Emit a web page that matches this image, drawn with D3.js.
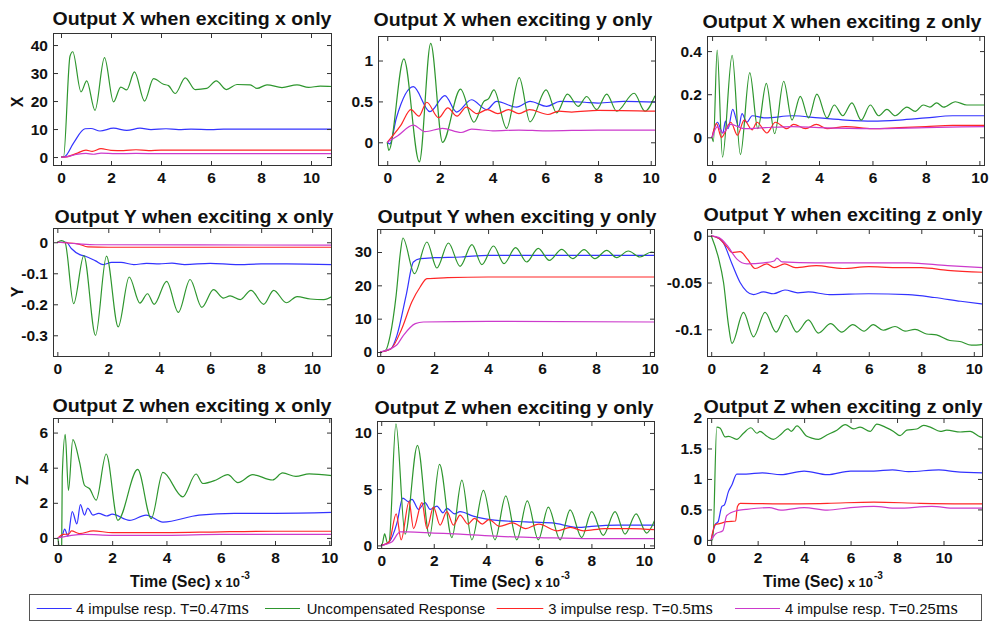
<!DOCTYPE html>
<html><head><meta charset="utf-8">
<script src="https://cdn.jsdelivr.net/npm/d3@7"></script>
<style>
body{margin:0;background:#fff;}
svg{display:block;}
</style></head>
<body>
<svg id="chart" width="992" height="622"></svg>
<script>
// ---------------- DATA ----------------
const seriesNames = ["4 impulse resp. T=0.47", "Uncompensated Response", "3 impulse resp. T=0.5", "4 impulse resp. T=0.25"];
const seriesUnits = ["ms", "", "ms", "ms"];
const seriesColors = ["#3333ff", "#2e962e", "#ff2626", "#cc3acc"];

const titles = [
  "Output X when exciting x only", "Output X when exciting y only", "Output X when exciting z only",
  "Output Y when exciting x only", "Output Y when exciting y only", "Output Y when exciting z only",
  "Output Z when exciting x only", "Output Z when exciting y only", "Output Z when exciting z only"
];
const rowLabels = ["X", "Y", "Z"];
const xTicks = [0, 2, 4, 6, 8, 10];

const xDomains = [[-0.32,10.84],[-0.35,10.2],[-0.19,10.21],[-0.17,10.78],[-0.12,10.19],[-0.16,10.35],[-0.18,10.1],[-0.16,10.42],[-0.18,11.7]];
const yDomains = [[-3.2,44.3],[-0.29,1.30],[-0.133,0.47],[-0.37,0.046],[-1.5,36.9],[-0.1296,0.0072],[-0.46,6.83],[-0.32,11.06],[-0.1,2.0]];
const yTicks = [[0,10,20,30,40],[0,0.5,1],[0,0.2,0.4],[-0.3,-0.2,-0.1,0],[0,10,20,30],[-0.1,-0.05,0],[0,2,4,6],[0,5,10],[0,0.5,1,1.5,2]];

// Output X / exciting x
const xx_blue = [[0,0],[0.15,0.2],[0.5,5],[0.96,10.1],[1.2,10.2],[1.56,9.3],[2.1,10.3],[2.63,9.5],[3.16,10.3],[3.6,9.8],[4.2,10.1],[4.7,9.8],[5.2,10],[6,9.8],[6.5,10],[8,10],[10.84,10]];
const xx_green = [[0,0],[0.1,0],[0.36,36],[0.47,37.6],[0.8,23.3],[1.03,27.2],[1.36,16.7],[1.74,35.5],[2.1,19.7],[2.39,25],[2.63,24],[2.94,30.4],[3.34,20],[3.7,28],[4.1,26],[4.3,25.5],[4.57,22.7],[4.97,28.3],[5.37,24.1],[5.83,24.5],[6.21,27.2],[6.61,24.1],[7.04,25.9],[7.57,25.8],[7.84,24.5],[8.24,25.8],[8.84,24.8],[9.44,25.8],[9.9,24.9],[10.37,25.3],[10.84,25.2]];
const xx_red = [[0,0],[0.15,0],[0.6,1.2],[1.0,2.5],[1.25,2.0],[1.6,3.0],[2.0,2.4],[2.5,2.3],[3,2.6],[3.5,2.3],[4,2.5],[5,2.5],[7,2.5],[10.84,2.5]];
const xx_mag = [[0,0],[0.15,0],[0.6,0.9],[1.0,1.3],[1.3,1.0],[1.6,1.4],[2.2,1.2],[3,1.3],[4,1.2],[6,1.2],[10.84,1.2]];

// Output X / exciting y
const xy_blue = [[0,0],[0.1,-0.02],[0.35,0.3],[0.99,0.68],[1.62,0.375],[2.19,0.57],[2.63,0.37],[3.2,0.52],[3.77,0.4],[4.15,0.5],[4.91,0.43],[5.42,0.5],[6.05,0.44],[6.56,0.5],[7.5,0.49],[8,0.48],[9,0.5],[10.2,0.49]];
const xy_green = [[0,0],[0.06,-0.1],[0.63,1.02],[1.22,-0.24],[1.65,1.21],[2.1,0],[2.78,0.65],[3.29,0.245],[3.67,0.5],[3.84,0.53],[4.05,0.64],[4.53,0.17],[5.01,0.79],[5.42,0.25],[6.03,0.64],[6.43,0.36],[6.84,0.59],[7.25,0.44],[7.57,0.56],[7.95,0.4],[8.33,0.59],[8.71,0.38],[9.37,0.6],[9.78,0.38],[10.16,0.57]];
const xy_red = [[0,0],[0.5,0.2],[0.9,0.4],[1.2,0.32],[1.5,0.49],[1.95,0.3],[2.3,0.42],[2.65,0.32],[3.0,0.43],[3.4,0.35],[3.8,0.4],[4.2,0.35],[4.6,0.4],[5.0,0.35],[5.4,0.4],[6.1,0.34],[6.5,0.38],[7,0.37],[8,0.39],[10.2,0.38]];
const xy_mag = [[0,0],[0.4,0.08],[0.99,0.21],[1.43,0.13],[2.1,0.17],[2.8,0.12],[3.2,0.16],[4,0.14],[5,0.15],[6,0.14],[8,0.15],[10.2,0.15]];

// Output X / exciting z
const xz_blue = [[0,0],[0.2,0.07],[0.4,0.02],[0.5,0.075],[0.6,0.04],[0.77,0.13],[1.0,0.05],[1.12,0.11],[1.3,0.07],[1.5,0.1],[2.0,0.09],[3.0,0.1],[4.0,0.09],[5.0,0.08],[6.0,0.075],[7.0,0.08],[8.0,0.09],[9.0,0.1],[10.21,0.1]];
const xz_green = [[0,0],[0.05,-0.02],[0.19,0.405],[0.39,-0.092],[0.75,0.38],[1.06,-0.08],[1.41,0.3],[1.71,0.04],[2.03,0.25],[2.34,0.017],[2.68,0.26],[2.99,0.08],[3.3,0.19],[3.61,0.09],[3.92,0.2],[4.3,0.09],[4.57,0.15],[4.89,0.1],[5.23,0.16],[5.58,0.08],[5.92,0.15],[6.23,0.1],[6.54,0.13],[6.85,0.1],[7.29,0.14],[7.6,0.12],[7.9,0.15],[8.15,0.14],[8.4,0.16],[8.66,0.14],[9.1,0.165],[9.53,0.15],[10.21,0.15]];
const xz_red = [[0,0],[0.16,0.065],[0.35,0],[0.7,0.07],[0.95,0.01],[1.2,0.08],[1.5,0.035],[1.68,0.07],[2.05,0.02],[2.37,0.07],[2.8,0.04],[3.05,0.06],[3.5,0.04],[3.9,0.06],[4.3,0.04],[5,0.05],[6,0.04],[7,0.045],[8,0.05],[9,0.055],[10.21,0.055]];
const xz_mag = [[0,0],[0.2,0.05],[0.4,0.02],[0.7,0.06],[1.2,0.04],[2,0.045],[3,0.05],[4,0.045],[6,0.04],[8,0.045],[10.21,0.05]];

// Output Y / exciting x
const yx_blue = [[0,0],[0.35,0],[0.55,-0.02],[0.88,-0.04],[1.1,-0.045],[1.5,-0.06],[1.8,-0.072],[2.13,-0.065],[2.5,-0.065],[3.0,-0.072],[3.5,-0.068],[4,-0.07],[4.5,-0.067],[5,-0.072],[6,-0.068],[7,-0.072],[8,-0.07],[9,-0.07],[10.78,-0.072]];
const yx_green = [[0,0],[0.16,0.005],[0.3,0],[0.64,-0.198],[1.04,-0.043],[1.5,-0.3],[1.93,-0.045],[2.39,-0.273],[2.82,-0.112],[3.24,-0.196],[3.54,-0.166],[3.8,-0.2],[4.29,-0.126],[4.75,-0.226],[5.21,-0.12],[5.67,-0.21],[6.13,-0.153],[6.52,-0.18],[6.78,-0.173],[7.18,-0.185],[7.6,-0.155],[8.1,-0.2],[8.49,-0.155],[8.99,-0.195],[9.41,-0.175],[9.93,-0.183],[10.46,-0.185],[10.78,-0.175]];
const yx_red = [[0,0],[0.8,-0.005],[1.2,-0.015],[2,-0.016],[10.78,-0.016]];
const yx_mag = [[0,0],[0.8,-0.005],[1.5,-0.008],[10.78,-0.009]];

// Output Y / exciting y
const yy_blue = [[0,0],[0.4,1],[0.62,5],[0.96,17],[1.23,27],[1.48,28],[2,28.3],[3,28.5],[4,29],[6,29],[8,29],[10.19,29]];
const yy_green = [[0,0],[0.2,0.5],[0.37,5],[0.59,17],[0.75,30],[0.84,34.2],[1.27,23.5],[1.73,33],[2.1,25.2],[2.53,32.7],[2.96,25.7],[3.4,32.2],[3.77,26.2],[4.2,31.8],[4.59,26.5],[5.02,31.3],[5.43,27],[5.86,31.1],[6.27,27.5],[6.73,30.8],[7.14,28],[7.56,30.7],[7.96,28],[8.4,30.5],[8.77,28.3],[9.2,30.3],[9.63,28.5],[10.06,30],[10.19,29.8]];
const yy_red = [[0,0],[0.4,1],[0.8,7],[1.17,15],[1.48,19.5],[1.73,22],[2.5,22.3],[4,22.5],[10.19,22.5]];
const yy_mag = [[0,0],[0.6,2],[0.86,5],[1.3,8.5],[1.6,9],[4,9.2],[10.19,9]];

// Output Y / exciting z
const yz_blue = [[0,0],[0.3,-0.003],[0.47,-0.008],[0.79,-0.03],[1.1,-0.05],[1.61,-0.063],[1.99,-0.06],[2.37,-0.062],[2.81,-0.058],[3.3,-0.061],[3.7,-0.06],[4.5,-0.063],[6,-0.062],[7.5,-0.063],[8.5,-0.066],[9.5,-0.07],[10.35,-0.073]];
const yz_green = [[0,0],[0.28,-0.024],[0.47,-0.05],[0.66,-0.096],[0.79,-0.115],[1.23,-0.082],[1.61,-0.108],[2.05,-0.082],[2.47,-0.103],[2.85,-0.085],[3.26,-0.103],[3.7,-0.09],[4.08,-0.104],[4.55,-0.094],[4.97,-0.103],[5.39,-0.095],[5.82,-0.102],[6.17,-0.095],[6.55,-0.101],[7.0,-0.097],[7.38,-0.102],[7.76,-0.1],[8.2,-0.105],[8.58,-0.106],[9.09,-0.112],[9.47,-0.113],[9.91,-0.117],[10.35,-0.116]];
const yz_red = [[0,0],[0.3,-0.003],[0.6,-0.012],[0.79,-0.018],[1.1,-0.017],[1.38,-0.025],[1.67,-0.035],[2.12,-0.03],[2.4,-0.034],[2.8,-0.03],[3.2,-0.034],[4,-0.032],[5,-0.035],[6,-0.033],[7,-0.034],[8,-0.034],[9,-0.037],[10.35,-0.039]];
const yz_mag = [[0,0],[0.3,-0.002],[0.6,-0.01],[0.98,-0.025],[1.36,-0.03],[2,-0.029],[2.4,-0.027],[2.5,-0.024],[2.7,-0.028],[4,-0.029],[6,-0.029],[7.5,-0.029],[9,-0.032],[10.35,-0.034]];

// Output Z / exciting x
const zx_blue = [[0,0],[0.15,0.1],[0.25,0.5],[0.37,0.1],[0.53,1.5],[0.7,0.8],[0.83,1.9],[0.98,1.3],[1.1,1.7],[1.29,1.3],[1.5,1.4],[1.8,1.25],[2.0,1.35],[2.64,1.0],[3.25,1.3],[3.87,0.9],[5.2,1.3],[6.5,1.4],[8,1.4],[10.1,1.45]];
const zx_green = [[0,0],[0.06,-0.5],[0.14,-0.5],[0.16,3.5],[0.27,5.9],[0.39,2.7],[0.55,5.6],[0.8,4.3],[0.98,3],[1.17,2.8],[1.41,2.15],[1.78,4.78],[2.21,1.0],[2.94,3.9],[3.44,1.1],[3.87,3.73],[4.6,2.34],[5.09,3.64],[5.34,3.1],[5.83,3.3],[6.26,3.6],[6.63,3.15],[7.18,3.6],[7.91,3.3],[8.28,3.7],[8.77,3.5],[9.26,3.65],[10.1,3.55]];
const zx_red = [[0,0],[0.2,0.2],[0.4,0.22],[0.5,0.4],[0.8,0.25],[1.3,0.4],[2,0.3],[4,0.3],[6,0.35],[8,0.38],[10.1,0.38]];
const zx_mag = [[0,0],[0.5,0.15],[1,0.2],[2,0.15],[4,0.15],[6,0.2],[10.1,0.2]];

// Output Z / exciting y
const zy_blue = [[0,0],[0.3,0.3],[0.6,2],[0.82,4.2],[1.04,3.9],[1.17,4.1],[1.42,3.2],[1.67,3.8],[1.86,3.2],[2.12,3.5],[2.35,2.9],[2.5,3.3],[2.8,2.8],[3.0,3.0],[3.5,2.6],[4.5,2.2],[5.5,2.1],[6.5,2.0],[7.5,1.6],[8,1.7],[9,1.8],[10.42,1.8]];
const zy_green = [[0,0],[0.05,0.2],[0.13,1.03],[0.24,0.2],[0.3,0.3],[0.56,10.8],[0.91,1.0],[1.38,8.9],[1.84,0.8],[2.22,7.2],[2.69,0.7],[3.07,5.8],[3.45,0.5],[3.89,4.9],[4.33,0.5],[4.74,4.4],[5.16,0.5],[5.56,3.95],[5.98,0.5],[6.36,3.4],[6.81,0.5],[7.19,3.15],[7.63,0.7],[8.01,3.0],[8.45,0.9],[8.9,3.0],[9.28,1.0],[9.7,2.8],[10.1,1.1],[10.42,2.3]];
const zy_red = [[0,0],[0.3,0.3],[0.57,2.8],[0.76,0.5],[1.06,3.9],[1.23,1.5],[1.55,3.8],[1.74,1.5],[1.99,3.4],[2.24,1.8],[2.5,3.0],[2.75,1.8],[3.0,2.7],[3.3,1.9],[3.55,2.4],[3.85,1.9],[4.1,2.3],[4.5,1.7],[5,2.0],[5.5,1.5],[6,1.9],[6.7,1.3],[7.2,1.6],[7.7,1.3],[8.5,1.5],[9.5,1.5],[10.42,1.4]];
const zy_mag = [[0,0],[0.4,0.3],[0.72,1.2],[1,1.2],[2,1.1],[3,1.0],[4.5,0.8],[6,0.7],[8,0.6],[10.42,0.6]];

// Output Z / exciting z
const zz_blue = [[0,0],[0.17,0.25],[0.3,0.3],[0.46,0.55],[0.56,0.57],[0.75,0.8],[0.89,0.9],[1.1,1.08],[1.5,1.08],[2.2,1.1],[3,1.07],[4,1.13],[5,1.07],[6,1.13],[7,1.13],[7.8,1.15],[8.5,1.12],[9.8,1.15],[10.5,1.12],[11.7,1.1]];
const zz_green = [[0,0],[0.07,0],[0.24,1.85],[0.39,1.83],[0.6,1.69],[0.75,1.7],[1.1,1.65],[1.39,1.75],[1.71,1.84],[1.97,1.75],[2.1,1.78],[2.4,1.7],[2.68,1.65],[2.97,1.72],[3.3,1.82],[3.45,1.78],[3.69,1.87],[4.12,1.7],[4.33,1.67],[4.62,1.65],[4.98,1.72],[5.41,1.8],[5.77,1.89],[6.13,1.82],[6.41,1.85],[6.84,1.78],[7.13,1.9],[7.49,1.85],[7.85,1.78],[8.13,1.71],[8.42,1.8],[8.85,1.82],[9.14,1.88],[9.43,1.85],[9.86,1.78],[10.14,1.8],[10.72,1.77],[11.15,1.78],[11.58,1.69],[11.7,1.68]];
const zz_red = [[0,0],[0.17,0.25],[0.4,0.27],[0.67,0.3],[1.05,0.31],[1.13,0.55],[1.25,0.6],[3,0.59],[5,0.6],[7,0.62],[9,0.6],[11.7,0.59]];
const zz_mag = [[0,0],[0.2,0.1],[0.5,0.15],[0.67,0.4],[1.1,0.48],[1.5,0.5],[2.5,0.53],[3,0.49],[4,0.53],[5,0.49],[6,0.53],[7,0.55],[8,0.52],[9.5,0.55],[10.5,0.52],[11.7,0.52]];

const panelSeries = [
  [xx_blue, xx_green, xx_red, xx_mag],
  [xy_blue, xy_green, xy_red, xy_mag],
  [xz_blue, xz_green, xz_red, xz_mag],
  [yx_blue, yx_green, yx_red, yx_mag],
  [yy_blue, yy_green, yy_red, yy_mag],
  [yz_blue, yz_green, yz_red, yz_mag],
  [zx_blue, zx_green, zx_red, zx_mag],
  [zy_blue, zy_green, zy_red, zy_mag],
  [zz_blue, zz_green, zz_red, zz_mag]
];

// ---------------- LAYOUT ----------------
const boxes = [
  [53,33,332,166],[378,36,656,166],[707,36,985,166],
  [53,228,332,357],[377,229,655,357],[707,229,983,357],
  [53,418,332,546],[377,421,655,549],[707,418,983,546]
];
const titlePos = [[192,25],[513,26],[842,28],[194,223],[517,222.5],[843,221],[192,411.5],[514,414],[843,413]];
const rowLabelPos = [[17,102],[17.5,292],[22,480]];
const timeLabelX = [130, 450, 763];

const svg = d3.select("#chart");
const FONT = "'Liberation Sans', Arial, Helvetica, sans-serif";

panelSeries.forEach((series, i) => {
  const [x0, y0, x1, y1] = boxes[i];
  const x = d3.scaleLinear().domain(xDomains[i]).range([x0, x1]);
  const y = d3.scaleLinear().domain(yDomains[i]).range([y1, y0]);
  const g = svg.append("g");

  g.append("clipPath").attr("id", "clip" + i)
    .append("rect").attr("x", x0).attr("y", y0).attr("width", x1 - x0).attr("height", y1 - y0);

  const line = d3.line().x(d => x(d[0])).y(d => y(d[1])).curve(d3.curveMonotoneX);
  const lg = g.append("g").attr("clip-path", `url(#clip${i})`);
  series.forEach((s, k) => {
    lg.append("path").datum(s).attr("d", line)
      .attr("fill", "none").attr("stroke", seriesColors[k]).attr("stroke-width", 1.2)
      .attr("stroke-linejoin", "round");
  });

  const fmt = d => String(d);
  const styleAxis = sel => {
    sel.select(".domain").remove();
    sel.selectAll(".tick line").attr("stroke", "#333");
    sel.selectAll("text").attr("font-family", FONT).attr("font-weight", "bold")
      .attr("font-size", 15.5).attr("fill", "#111");
  };
  g.append("g").attr("transform", `translate(0,${y1})`)
    .call(d3.axisBottom(x).tickValues(xTicks).tickFormat(fmt).tickSize(-5).tickSizeOuter(0).tickPadding(6))
    .call(styleAxis);
  g.append("g").attr("transform", `translate(0,${y0})`)
    .call(d3.axisTop(x).tickValues(xTicks).tickFormat("").tickSize(-5).tickSizeOuter(0))
    .call(styleAxis);
  g.append("g").attr("transform", `translate(${x0},0)`)
    .call(d3.axisLeft(y).tickValues(yTicks[i]).tickFormat(fmt).tickSize(-5).tickSizeOuter(0).tickPadding(5))
    .call(styleAxis);
  g.append("g").attr("transform", `translate(${x1},0)`)
    .call(d3.axisRight(y).tickValues(yTicks[i]).tickFormat("").tickSize(-5).tickSizeOuter(0))
    .call(styleAxis);

  g.append("rect").attr("x", x0 + 0.5).attr("y", y0 + 0.5).attr("width", x1 - x0 - 1).attr("height", y1 - y0 - 1)
    .attr("fill", "none").attr("stroke", "#333").attr("stroke-width", 1);

  g.append("text").attr("x", titlePos[i][0]).attr("y", titlePos[i][1])
    .attr("text-anchor", "middle").attr("font-family", FONT).attr("font-weight", "bold")
    .attr("font-size", 18.5).attr("fill", "#111")
    .attr("textLength", 279).attr("lengthAdjust", "spacingAndGlyphs")
    .text(titles[i]);
});

// row labels
rowLabels.forEach((t, r) => {
  svg.append("text").attr("transform", `translate(${rowLabelPos[r][0]},${rowLabelPos[r][1]}) rotate(-90)`)
    .attr("text-anchor", "middle").attr("dy", "0.35em")
    .attr("font-family", FONT).attr("font-weight", "bold").attr("font-size", 16).attr("fill", "#111")
    .text(t);
});

// time labels
timeLabelX.forEach(lx => {
  const t = svg.append("text").attr("x", lx).attr("y", 586.5)
    .attr("font-family", FONT).attr("font-weight", "bold").attr("fill", "#111");
  t.append("tspan").attr("font-size", 16).text("Time (Sec)");
  t.append("tspan").attr("font-size", 13).attr("dx", 4).text("x 10");
  t.append("tspan").attr("font-size", 10).attr("dy", -8).attr("dx", 1).text("-3");
});

// legend
const legendBox = [29, 594, 981, 620];
svg.append("rect").attr("x", legendBox[0] + 0.5).attr("y", legendBox[1] + 0.5)
  .attr("width", legendBox[2] - legendBox[0]).attr("height", legendBox[3] - legendBox[1])
  .attr("fill", "#fff").attr("stroke", "#555").attr("stroke-width", 1);
const legendLineX = [[36.7, 71.7], [265, 300], [496.7, 543.3], [735, 780]];
const legendTextX = [76, 306.7, 548.3, 785];
seriesNames.forEach((name, k) => {
  svg.append("line").attr("x1", legendLineX[k][0]).attr("x2", legendLineX[k][1])
    .attr("y1", 608.5).attr("y2", 608.5).attr("stroke", seriesColors[k]).attr("stroke-width", 1.2);
  const t = svg.append("text").attr("x", legendTextX[k]).attr("y", 613.5)
    .attr("font-family", FONT).attr("font-size", 14.8).attr("fill", "#111");
  t.append("tspan").text(name);
  if (seriesUnits[k]) {
    t.append("tspan").attr("font-family", "'Liberation Serif', 'Times New Roman', serif")
      .attr("font-size", 19).text(seriesUnits[k]);
  }
});
</script>
</body></html>
